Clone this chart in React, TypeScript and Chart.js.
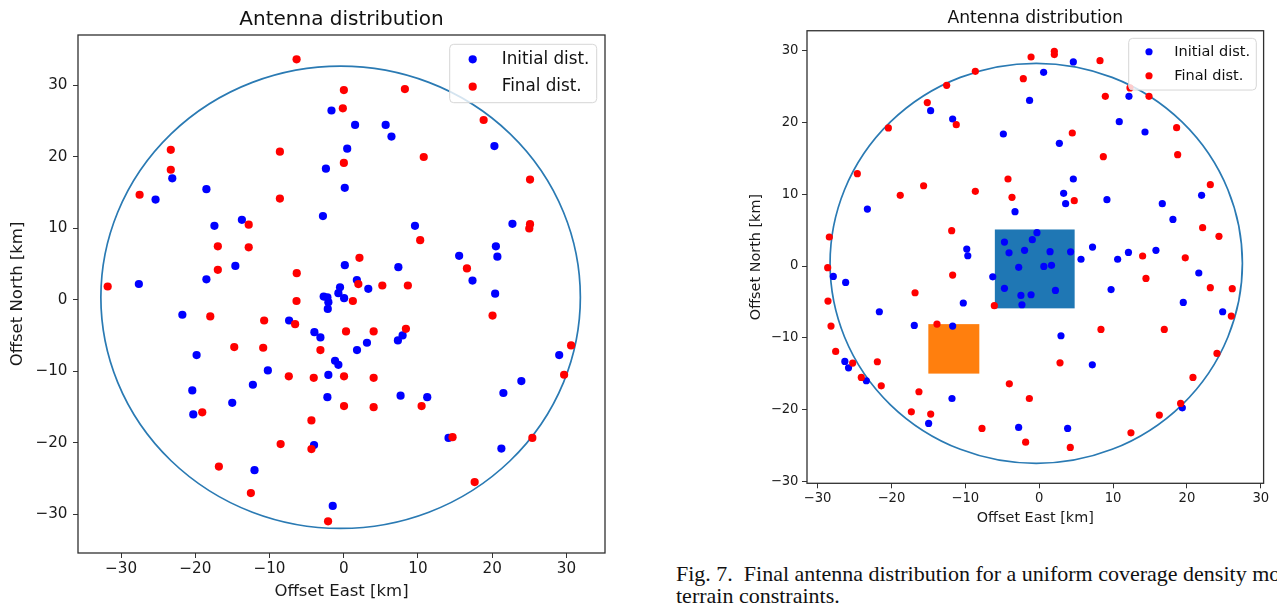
import React, { useEffect, useRef } from "react";
import { Chart, registerables } from "chart.js";

Chart.register(...registerables);

const FONT = "'DejaVu Sans', 'Liberation Sans', sans-serif";

const chartTitle = "Antenna distribution";
const xAxisTitle = "Offset East [km]";
const yAxisTitle = "Offset North [km]";
const seriesLabels = ["Initial dist.", "Final dist."];
const tickValues = [-30, -20, -10, 0, 10, 20, 30];
const captionLine1 = "Fig. 7.  Final antenna distribution for a uniform coverage density model";
const captionLine2 = "terrain constraints.";

// Left panel: [east, north] in km
const leftInitial: [number, number][] = [
  [-1.65, 26.45], [1.53, 24.44], [5.65, 24.44], [6.43, 22.8], [0.47, 21.12], [20.3, 21.48],
  [-23.1, 16.97], [-18.5, 15.46], [-25.35, 14.0], [-2.4, 18.32], [0.14, 15.64], [-2.8, 11.7],
  [-17.42, 10.34], [-13.72, 11.17], [9.6, 10.34], [22.73, 10.61], [20.5, 7.47], [20.7, 6.03],
  [15.55, 6.15], [-14.6, 4.73], [0.15, 4.84], [7.36, 4.56], [-27.6, 2.21], [-18.5, 2.86],
  [1.77, 2.75], [3.31, 1.54], [17.35, 2.68], [-0.5, 1.75], [20.4, 0.86], [-0.72, 0.93],
  [-2.7, 0.45], [-2.2, 0.35], [-2.07, -0.33], [-2.15, -1.28], [0.05, 0.23], [-21.74, -2.09],
  [-7.36, -2.89], [-3.95, -4.52], [-3.14, -5.26], [3.13, -6.0], [1.79, -7.03], [-1.17, -8.52],
  [-0.72, -9.08], [7.93, -4.98], [7.3, -5.68], [-19.82, -7.73], [-10.22, -9.87], [-12.24, -11.87],
  [-20.4, -12.66], [-15.02, -14.39], [-20.27, -16.01], [-2.07, -10.5], [-2.2, -13.6], [7.66, -13.4],
  [11.25, -13.6], [-4.0, -20.3], [14.12, -19.3], [-12.02, -23.8], [-1.48, -28.8], [29.03, -7.72],
  [23.93, -11.35], [21.51, -13.02], [21.24, -20.79],
];

const leftFinal: [number, number][] = [
  [-6.35, 33.6], [0.02, 29.3], [8.24, 29.45], [-0.12, 26.75], [18.85, 25.12], [-23.3, 20.95],
  [-8.6, 20.7], [10.78, 19.95], [0.02, 19.12], [-23.3, 18.17], [25.1, 16.8], [-27.5, 14.68],
  [-8.6, 14.15], [-12.8, 10.5], [25.1, 10.57], [25.0, 9.96], [-16.96, 7.47], [-12.8, 7.33],
  [10.3, 8.33], [2.12, 5.87], [-16.96, 4.19], [-6.33, 3.72], [16.6, 4.38], [-31.8, 1.86],
  [1.97, 2.2], [5.2, 2.0], [8.64, 2.0], [-6.36, -0.17], [1.23, -0.17], [-17.98, -2.33],
  [-10.72, -2.89], [-6.55, -3.4], [0.31, -4.42], [4.03, -4.42], [8.38, -4.05], [-14.75, -6.61],
  [-10.85, -6.7], [-3.14, -7.03], [20.05, -2.2], [30.63, -6.37], [29.69, -10.47], [-7.4, -10.7],
  [-4.04, -10.9], [0.04, -10.7], [4.03, -10.9], [-19.06, -15.73], [0.04, -14.85], [4.03, -15.0],
  [10.49, -14.85], [-4.35, -16.85], [-8.5, -20.16], [-4.35, -20.86], [14.66, -19.2], [25.41, -19.3],
  [-16.82, -23.3], [-12.51, -27.0], [17.64, -25.47], [-2.11, -30.96],
];

// Right panel: [east, north] in km
const rightInitial: [number, number][] = [
  [4.62, 28.47], [0.6, 27.02], [-1.3, 23.1], [12.15, 23.67], [-14.69, 21.67], [-11.71, 20.51],
  [10.84, 20.14], [-4.85, 18.42], [14.32, 18.7], [2.73, 17.12], [4.62, 12.14], [3.31, 10.14],
  [3.58, 8.7], [9.17, 9.26], [16.66, 8.7], [21.98, 9.86], [18.1, 6.51], [-3.27, 7.58],
  [-23.25, 7.95], [-9.8, 2.37], [-9.66, 1.44], [7.22, 2.65], [12.08, 1.9], [15.8, 2.2],
  [5.66, 0.95], [10.62, 0.95], [-4.7, 3.35], [-4.08, 1.85], [-1.98, 2.2], [-0.93, 3.68],
  [-0.3, 4.65], [1.47, 2.0], [4.25, 1.98], [0.63, -0.05], [1.67, 0.1], [-6.28, -1.5],
  [-4.7, -3.1], [-2.77, -0.18], [-2.47, -4.1], [-2.33, -5.4], [-1.1, -4.0], [2.2, -3.4],
  [-10.27, -5.15], [21.6, -0.97], [9.73, -3.28], [19.5, -5.07], [24.83, -6.37], [-27.86, -1.44],
  [-26.19, -2.28], [-21.63, -6.37], [-16.9, -8.28], [-11.71, -8.37], [2.95, -9.72], [7.19, -13.77],
  [-26.3, -13.3], [-25.8, -14.2], [-23.39, -16.0], [-11.8, -18.47], [-14.96, -21.95], [-2.78, -22.5],
  [3.85, -22.65], [19.37, -19.77],
];

const rightFinal: [number, number][] = [
  [-1.1, 29.16], [2.05, 29.95], [2.05, 29.5], [8.23, 28.65], [-8.64, 27.16], [-2.15, 26.14],
  [-12.52, 25.2], [12.29, 24.84], [8.95, 23.67], [14.86, 23.67], [-15.14, 22.8], [-11.22, 19.72],
  [-20.41, 19.26], [4.48, 18.56], [18.6, 19.3], [8.68, 15.26], [18.74, 15.53], [-24.61, 12.88],
  [-4.22, 12.14], [-15.64, 11.2], [-18.8, 9.86], [-8.64, 10.42], [-3.68, 9.58], [4.75, 9.12],
  [23.16, 11.35], [-11.84, 4.93], [-28.4, 4.05], [22.12, 5.35], [24.33, 4.14], [14.0, 1.4],
  [19.77, 1.15], [-28.62, -0.23], [-11.71, -1.26], [14.45, -1.72], [23.16, -3.02], [26.13, -3.16],
  [-16.8, -3.72], [-28.58, -4.88], [-6.07, -5.53], [26.0, -6.98], [-28.17, -8.37], [-13.83, -8.09],
  [8.36, -8.84], [16.93, -8.84], [-27.54, -11.9], [-21.9, -13.35], [-25.24, -13.53], [2.82, -13.49],
  [24.06, -12.19], [-24.07, -15.53], [20.81, -15.53], [-21.37, -16.7], [-16.27, -17.53], [-4.04, -16.42],
  [-1.33, -18.47], [19.14, -19.16], [-17.3, -20.33], [-14.68, -20.65], [16.26, -20.79], [-7.74, -22.65],
  [12.42, -23.26], [-1.83, -24.56], [4.21, -25.3],
];

// Coverage circles [centerEast, centerNorth, radius]
const leftCircle = [-0.42, 0.35, 32.3];
const rightCircle = [-0.4, 0.38, 27.9];
// Terrain zones [east0, east1, north0, north1]
const rightZoneBlue = [-6.0, 4.8, -5.9, 5.1];
const rightZoneOrange = [-15.0, -8.1, -15.0, -8.1];

const fmtTick = (v: number) => (v < 0 ? "\u2212" + Math.abs(v) : String(v));

type Panel = {
  width: number;
  height: number;
  pad: { left: number; right: number; top: number; bottom: number };
  yAxisWidth: number;
  xAxisHeight: number;
  xRange: [number, number];
  yRange: [number, number];
  tickFont: number;
  xTickPad: number;
  yTickPad: number;
  labelFont: number;
  yTitlePad: number;
  xTitlePad: number;
  titleFont: number;
  titlePad: { top: number; bottom: number };
  radius: number;
  circle: number[];
  zones: { r: number[]; color: string }[];
  legend: { right: number; top: number; w: number; h: number; mdx: number; tdx: number; r1: number; r2: number; font: number };
  initial: [number, number][];
  final: [number, number][];
};

function makeChart(canvas: HTMLCanvasElement, p: Panel) {
  const shapes = {
    id: "shapes",
    beforeDatasetsDraw(chart: any) {
      const { ctx, scales } = chart;
      const x = scales.x, y = scales.y;
      ctx.save();
      for (const z of p.zones) {
        const x0 = x.getPixelForValue(z.r[0]);
        const x1 = x.getPixelForValue(z.r[1]);
        const y0 = y.getPixelForValue(z.r[2]);
        const y1 = y.getPixelForValue(z.r[3]);
        ctx.fillStyle = z.color;
        ctx.fillRect(Math.min(x0, x1), Math.min(y0, y1), Math.abs(x1 - x0), Math.abs(y1 - y0));
      }
      const [ccx, ccy, cr] = p.circle;
      const cx = x.getPixelForValue(ccx);
      const cy = y.getPixelForValue(ccy);
      const rx = Math.abs(x.getPixelForValue(ccx + cr) - cx);
      const ry = Math.abs(y.getPixelForValue(ccy + cr) - cy);
      ctx.beginPath();
      ctx.ellipse(cx, cy, rx, ry, 0, 0, Math.PI * 2);
      ctx.strokeStyle = "#2a7ab3";
      ctx.lineWidth = 1.7;
      ctx.stroke();
      ctx.restore();
    },
    afterDatasetsDraw(chart: any) {
      const { ctx, chartArea: a } = chart;
      ctx.save();
      ctx.strokeStyle = "#303030";
      ctx.lineWidth = 1.3;
      ctx.strokeRect(a.left, a.top, a.right - a.left, a.bottom - a.top);
      const L = p.legend;
      const bx = a.right - L.right - L.w;
      const by = a.top + L.top;
      ctx.beginPath();
      (ctx as any).roundRect(bx, by, L.w, L.h, 4);
      ctx.fillStyle = "rgba(255,255,255,0.8)";
      ctx.fill();
      ctx.strokeStyle = "#d6d6d6";
      ctx.lineWidth = 1;
      ctx.stroke();
      const rows = [
        { y: by + L.r1, c: "#0000ff", t: seriesLabels[0] },
        { y: by + L.r2, c: "#ff0000", t: seriesLabels[1] },
      ];
      ctx.font = `${L.font}px ${FONT}`;
      ctx.textBaseline = "middle";
      ctx.textAlign = "left";
      for (const r of rows) {
        ctx.beginPath();
        ctx.arc(bx + L.mdx, r.y, p.radius, 0, Math.PI * 2);
        ctx.fillStyle = r.c;
        ctx.fill();
        ctx.fillStyle = "#111";
        ctx.fillText(r.t, bx + L.tdx, r.y);
      }
      ctx.restore();
    },
  };

  const tickSetter = (scale: any) => {
    scale.ticks = tickValues.map((v) => ({ value: v }));
  };

  return new Chart(canvas, {
    type: "scatter",
    data: {
      datasets: [
        {
          label: seriesLabels[0],
          data: p.initial.map(([x, y]) => ({ x, y })),
          backgroundColor: "#0000ff",
          borderWidth: 0,
          pointRadius: p.radius,
          order: 1,
        },
        {
          label: seriesLabels[1],
          data: p.final.map(([x, y]) => ({ x, y })),
          backgroundColor: "#ff0000",
          borderWidth: 0,
          pointRadius: p.radius,
          order: 0,
        },
      ],
    },
    options: {
      animation: false,
      responsive: false,
      devicePixelRatio: 1,
      events: [],
      layout: { padding: p.pad },
      plugins: {
        legend: { display: false },
        tooltip: { enabled: false },
        title: {
          display: true,
          text: chartTitle,
          fullSize: false,
          color: "#111",
          font: { family: FONT, size: p.titleFont, weight: "normal", lineHeight: 1.2 },
          padding: p.titlePad,
        },
      },
      scales: {
        x: {
          type: "linear",
          position: "bottom",
          min: p.xRange[0],
          max: p.xRange[1],
          afterBuildTicks: tickSetter,
          afterFit: (s: any) => {
            s.height = p.xAxisHeight;
          },
          ticks: {
            autoSkip: false,
            maxRotation: 0,
            minRotation: 0,
            padding: p.xTickPad,
            color: "#1a1a1a",
            font: { family: FONT, size: p.tickFont, lineHeight: 1.2 },
            callback: (v: any) => fmtTick(Number(v)),
          },
          grid: { display: true, drawOnChartArea: false, drawTicks: true, tickLength: 5, tickColor: "#333", tickWidth: 1 },
          border: { display: false },
          title: {
            display: true,
            text: xAxisTitle,
            color: "#1a1a1a",
            font: { family: FONT, size: p.labelFont, lineHeight: 1.2 },
            padding: { top: 0, bottom: p.xTitlePad },
          },
        },
        y: {
          type: "linear",
          position: "left",
          min: p.yRange[0],
          max: p.yRange[1],
          afterBuildTicks: tickSetter,
          afterFit: (s: any) => {
            s.width = p.yAxisWidth;
          },
          ticks: {
            autoSkip: false,
            padding: p.yTickPad,
            color: "#1a1a1a",
            font: { family: FONT, size: p.tickFont, lineHeight: 1.2 },
            callback: (v: any) => fmtTick(Number(v)),
          },
          grid: { display: true, drawOnChartArea: false, drawTicks: true, tickLength: 5, tickColor: "#333", tickWidth: 1 },
          border: { display: false },
          title: {
            display: true,
            text: yAxisTitle,
            color: "#1a1a1a",
            font: { family: FONT, size: p.labelFont, lineHeight: 1.2 },
            padding: { top: p.yTitlePad, bottom: 0 },
          },
        },
      },
    } as any,
    plugins: [shapes],
  });
}

const leftPanel: Panel = {
  width: 640,
  height: 604,
  pad: { left: 0, right: 35, top: 0, bottom: 0 },
  yAxisWidth: 78,
  xAxisHeight: 51,
  xRange: [-35.8, 35.2],
  yRange: [-35.38, 37.0],
  tickFont: 15.2,
  xTickPad: 2,
  yTickPad: 5.5,
  labelFont: 16.5,
  yTitlePad: 8,
  xTitlePad: 2.4,
  titleFont: 20,
  titlePad: { top: 8, bottom: 3 },
  radius: 4.1,
  circle: leftCircle,
  zones: [],
  legend: { right: 8.3, top: 9.3, w: 147, h: 58.4, mdx: 23, tdx: 52, r1: 15, r2: 42.4, font: 16.8 },
  initial: leftInitial,
  final: leftFinal,
};

const rightPanel: Panel = {
  width: 637,
  height: 530,
  pad: { left: 100, right: 13.4, top: 0, bottom: 0 },
  yAxisWidth: 67,
  xAxisHeight: 46.7,
  xRange: [-31.42, 30.37],
  yRange: [-30.3, 32.82],
  tickFont: 13.2,
  xTickPad: 2,
  yTickPad: 3.5,
  labelFont: 14.4,
  yTitlePad: 7.9,
  xTitlePad: 3,
  titleFont: 17.2,
  titlePad: { top: 8, bottom: 2.1 },
  radius: 3.6,
  circle: rightCircle,
  zones: [
    { r: rightZoneBlue, color: "#1f77b4" },
    { r: rightZoneOrange, color: "#ff7f0e" },
  ],
  legend: { right: 7.3, top: 7.6, w: 127.6, h: 51.7, mdx: 20.3, tdx: 45.5, r1: 13.4, r2: 37.4, font: 14.5 },
  initial: rightInitial,
  final: rightFinal,
};

function PanelCanvas({ panel, left }: { panel: Panel; left: number }) {
  const ref = useRef<HTMLCanvasElement | null>(null);
  useEffect(() => {
    if (!ref.current) return;
    const c = makeChart(ref.current, panel);
    return () => c.destroy();
  }, [panel]);
  return (
    <canvas
      ref={ref}
      width={panel.width}
      height={panel.height}
      style={{ position: "absolute", left, top: 0, width: panel.width, height: panel.height, display: "block" }}
    />
  );
}

export default function App() {
  return (
    <div
      style={{
        position: "fixed",
        left: 0,
        top: 0,
        width: 1277,
        height: 604,
        overflow: "hidden",
        background: "#fff",
      }}
    >
      <PanelCanvas panel={leftPanel} left={0} />
      <PanelCanvas panel={rightPanel} left={640} />
      <div
        style={{
          position: "absolute",
          left: 676,
          top: 563.3,
          fontFamily: "'Liberation Serif', 'Times New Roman', serif",
          fontSize: 22,
          lineHeight: "22px",
          color: "#111",
          whiteSpace: "pre",
        }}
      >
        <div>{captionLine1}</div>
        <div>{captionLine2}</div>
      </div>
    </div>
  );
}
